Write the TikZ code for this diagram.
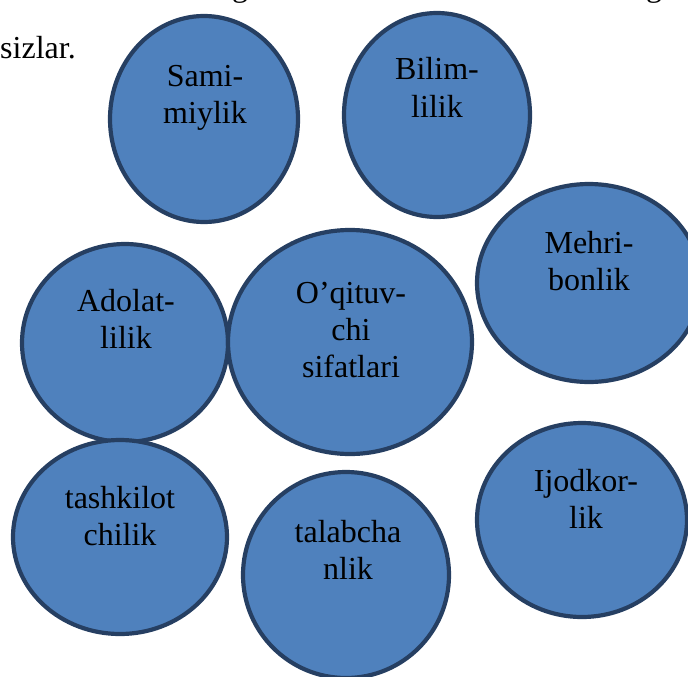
\documentclass[tikz,border=0pt]{standalone}
\usepackage{fontspec}
\setmainfont{Liberation Serif}
\definecolor{ellfill}{HTML}{4F81BD}
\definecolor{elldraw}{HTML}{263F62}
\tikzset{
  quality/.style={draw=elldraw, line width=4.2pt, fill=ellfill},
  lbl/.style={align=center, font=\fontsize{32}{37}\selectfont, inner sep=0pt, anchor=base},
}
\begin{document}
\begin{tikzpicture}[x=1pt,y=-1pt]
\useasboundingbox (0,0) rectangle (688,677);
\clip (0,0) rectangle (688,677);
% fragments of the surrounding page text
\node[lbl, anchor=base west] (pagetxt) at (0,59) {sizlar.};
\node[lbl] (g1) at (240,-3) {g};
\node[lbl] (g2) at (654,-3) {g};
% ellipses
\path[quality] (204,119) ellipse [x radius=94, y radius=103];
\path[quality] (437,115) ellipse [x radius=93, y radius=102];
\path[quality] (589,283) ellipse [x radius=112, y radius=99];
\path[quality] (125,343) ellipse [x radius=103, y radius=99];
\path[quality] (350,342) ellipse [x radius=122, y radius=112];
\path[quality] (120,537) ellipse [x radius=107, y radius=97];
\path[quality] (346,575) ellipse [x radius=103, y radius=103];
\path[quality] (582,520) ellipse [x radius=105, y radius=97];
% labels (anchor = baseline of the last line)
\node[lbl] (sami) at (205,123) {Sami-\\miylik};
\node[lbl] (bilim) at (437,117) {Bilim-\\lilik};
\node[lbl] (mehri) at (589,290) {Mehri-\\bonlik};
\node[lbl] (adolat) at (126,348) {Adolat-\\lilik};
\node[lbl] (oqit) at (351,377) {O’qituv-\\chi\\sifatlari};
\node[lbl] (tash) at (120,545) {tashkilot\\chilik};
\node[lbl] (talab) at (348,579) {talabcha\\nlik};
\node[lbl] (ijod) at (586,528) {Ijodkor-\\lik};
\end{tikzpicture}
\end{document}
